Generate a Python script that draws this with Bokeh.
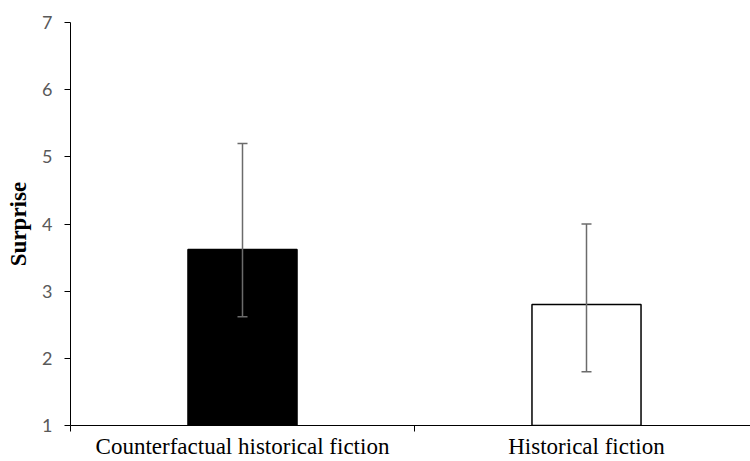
from bokeh.plotting import figure
from bokeh.models import ColumnDataSource, Range1d, FixedTicker, Whisker, TeeHead
from bokeh.embed import file_html
from bokeh.resources import INLINE

categories = ["Counterfactual historical fiction", "Historical fiction"]
means = [3.62, 2.80]
lower = [2.62, 1.80]
upper = [5.20, 4.00]
fills = ["black", "white"]
y_ticks = [1, 2, 3, 4, 5, 6, 7]

xs = [i + 0.5 for i in range(len(categories))]
bounds = [float(i) for i in range(len(categories) + 1)]
src = ColumnDataSource(dict(x=xs, top=means, lower=lower, upper=upper, fill=fills))

p = figure(width=750, height=461, output_backend="svg", toolbar_location=None,
           x_range=Range1d(0, 680 / 344), y_range=Range1d(1, 7),
           min_border_left=70, min_border_right=0, min_border_top=22, min_border_bottom=36)
p.background_fill_color = "white"
p.border_fill_color = "white"
p.outline_line_color = None
p.xgrid.visible = False
p.ygrid.visible = False

p.vbar(x="x", top="top", bottom=1, width=0.317, fill_color="fill",
       line_color="black", line_width=1.5, source=src)

err_col = "#6b6b6b"
w = Whisker(base="x", lower="lower", upper="upper", source=src,
            line_color=err_col, line_width=1.5, level="overlay",
            upper_head=TeeHead(size=10, line_color=err_col, line_width=1.5),
            lower_head=TeeHead(size=10, line_color=err_col, line_width=1.5))
p.add_layout(w)

xa = p.xaxis[0]
xa.ticker = FixedTicker(ticks=xs, minor_ticks=bounds)
xa.major_label_overrides = {x: c for x, c in zip(xs, categories)}
xa.major_tick_out = 0
xa.major_tick_in = 0
xa.minor_tick_out = 6
xa.minor_tick_in = 0
xa.minor_tick_line_color = "black"
xa.axis_line_color = "black"
xa.major_label_standoff = 2
xa.major_label_text_font = "Liberation Serif"
xa.major_label_text_font_size = "23px"
xa.major_label_text_color = "black"

ya = p.yaxis[0]
ya.ticker = FixedTicker(ticks=y_ticks)
ya.major_tick_out = 6
ya.major_tick_in = 0
ya.minor_tick_out = 0
ya.minor_tick_in = 0
ya.axis_line_color = "black"
ya.major_tick_line_color = "black"
ya.major_label_standoff = 12
ya.major_label_text_font = "Lato"
ya.major_label_text_font_size = "18px"
ya.major_label_text_color = "#595959"
ya.axis_label = "Surprise"
ya.axis_label_text_font = "Liberation Serif"
ya.axis_label_text_font_style = "bold"
ya.axis_label_text_font_size = "23px"
ya.axis_label_text_color = "black"
ya.axis_label_standoff = 8

open("out.html", "w").write(file_html(p, INLINE))
